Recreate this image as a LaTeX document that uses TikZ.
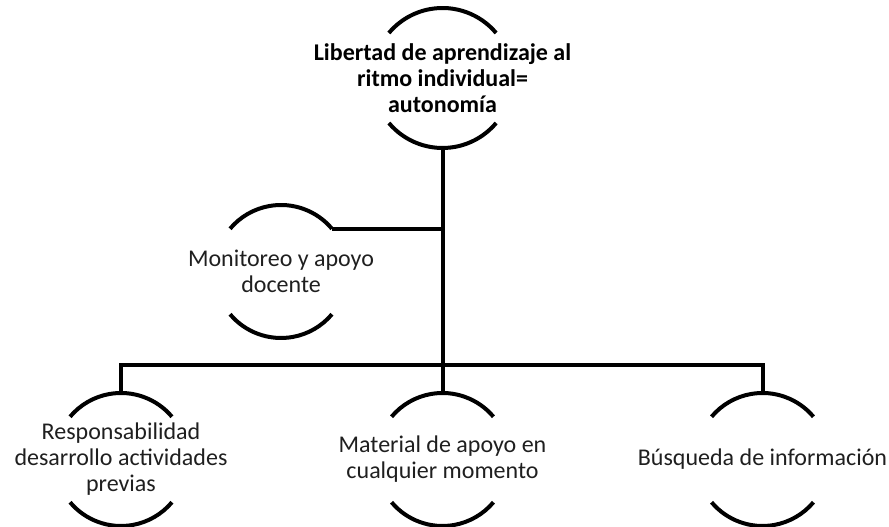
\documentclass[tikz,border=0pt]{standalone}
\usepackage{fontspec}
\setmainfont{Carlito}
\begin{document}
\begin{tikzpicture}[x=0.75pt,y=0.75pt,
  ring/.style={circle,minimum size=#1,inner sep=0pt,outer sep=0pt},
  lab/.style={align=center,font=\fontsize{18}{19.5}\selectfont,text=black!88},
  labb/.style={align=center,font=\bfseries\fontsize{18}{19.5}\selectfont,text=black},
  conn/.style={line width=3pt},
  arcline/.style={line width=3pt}]
\useasboundingbox (0,0) rectangle (889,527);
% nodes
\node[ring=105pt] (top) at (442.5,449) {};
\node[ring=99.75pt] (mon) at (281,255.5) {};
\node[ring=99.75pt] (left) at (121,67.5) {};
\node[ring=99.75pt] (mid) at (442.5,67.5) {};
\node[ring=99.75pt] (right) at (762.5,67.5) {};
\coordinate (j) at (442.5,162);
% texts
\node[labb] (toptext) at (top) {Libertad de aprendizaje al\\ritmo individual=\\autonomía};
\node[lab] (montext) at (mon) {Monitoreo y apoyo\\docente};
\node[lab] (lefttext) at (left) {Responsabilidad\\desarrollo actividades\\previas};
\node[lab] (midtext) at (mid) {Material de apoyo en\\cualquier momento};
\node[lab] (righttext) at (right) {Búsqueda de información};
% arcs
\draw[arcline] (top.40) arc[start angle=40,end angle=140,radius=52.5pt];
\draw[arcline] (top.220) arc[start angle=220,end angle=320,radius=52.5pt];
\foreach \n in {mon,left,mid,right}{
  \draw[arcline] (\n.40) arc[start angle=40,end angle=140,radius=49.875pt];
  \draw[arcline] (\n.220) arc[start angle=220,end angle=320,radius=49.875pt];
}
% connectors
\draw[conn] (top.south) -- (mid.north);
\draw[conn] (mon.40) -- (mon.40 -| top.south);
\draw[conn] (left.north) |- (j) -| (right.north);
\end{tikzpicture}
\end{document}
